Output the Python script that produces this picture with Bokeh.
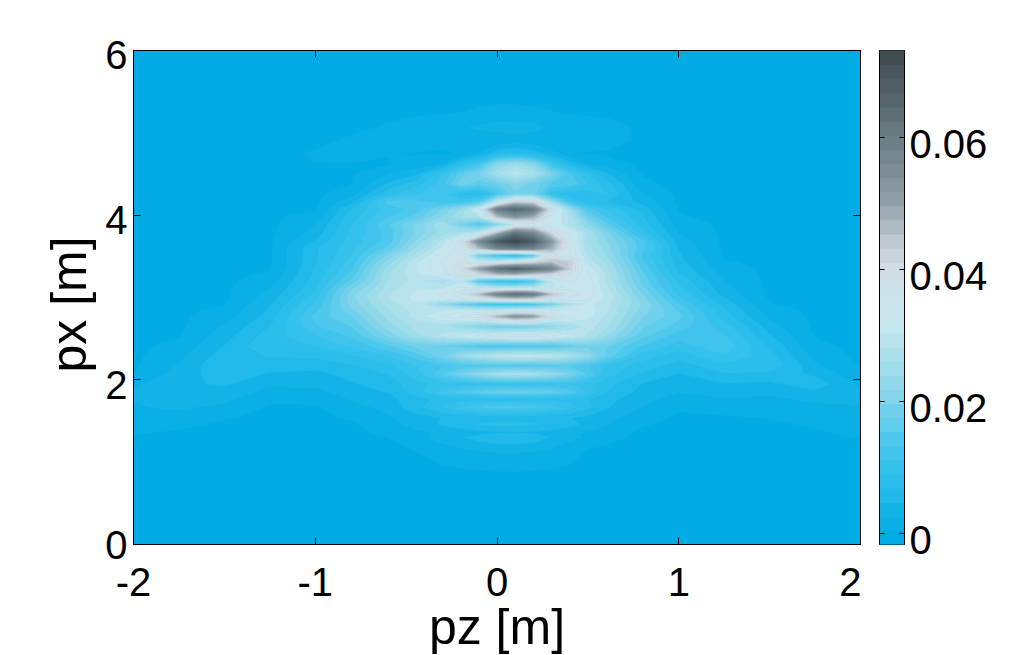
import numpy as np
from bokeh.embed import file_html
from bokeh.resources import INLINE
from bokeh.layouts import row
from bokeh.models import FixedTicker, LinearAxis, Range1d
from bokeh.plotting import figure

# Grid; intensity values in units of 0.001
pz = [-2, -1.75, -1.5, -1.25, -1, -.8, -.6, -.45, -.3, -.2, -.1, 0, .1, .2, .3, .4, .5, .6, .8, 1, 1.25, 1.5, 1.75, 2]
px = [6, 5.5, 5.25, 5.07, 4.9, 4.75, 4.62, 4.5, 4.38, 4.26, 4.16, 4.07, 3.98, 3.89, 3.78, 3.68, 3.6, 3.51, 3.43, 3.35,
      3.28, 3.2, 3.12, 3.04, 2.98, 2.92, 2.85, 2.77, 2.65, 2.53, 2.41, 2.29, 2.17, 2.07, 1.95, 1.85, 1.77, 1.67, 1.54,
      1.46, 1.36, 1.3, 1.15, 1.0, 0.8, 0]
intensity = [
 [0,0,0,0,0, 0,0,0,0,0,0,0,0,0,0,0,0,0,0, 0,0,0,0,0],
 [0,0,0,0,0, 0,0,0,0,0,0,0,0,0,0,0,0,0,0, 0,0,0,0,0],
 [0,0,0,0,0, 0,0,0,.2,.4,.6,.7,.7,.6,.5,.2,0,0,0, 0,0,0,0,0],
 [0,0,0,0,0, .1,.6,1.5,1.8,2.2,3,3.4,3.5,3.2,2.2,1.8,1.5,1.2,.1, 0,0,0,0,0],
 [0,0,0,0,.1, .7,1.2,1.4,.8,.5,.45,1,1.5,1,.45,.8,1.2,1.2,.1, 0,0,0,0,0],
 [0,0,0,0,.6, .8,.5,.3,.3,.5,2.5,6,7,6,3.5,.5,.3,.2,0, 0,0,0,0,0],
 [0,0,0,0,.4, .4,.3,1,2.6,8,12,22,25,22,12,6,2.6,1,.2, 0,0,0,0,0],
 [0,0,0,0,0, .3,2.5,4,11,16,20,26,30,27,20,14,9,5,.3, 0,0,0,0,0],
 [0,0,0,0,0, .3,5,8,12,19,16,18,21,19,15,15,11,8,.8, 0,0,0,0,0],
 [0,0,0,0,0, 1.5,8,11,12,8,7,13,19,19,10,7,8,9,2.5, 0,0,0,0,0],
 [0,0,0,0,0, 4,14,14,12,12,15,30,42,40,25,12,8,7,4, 0,0,0,0,0],
 [0,0,0,0,.3, 7,12,14,20,24,33,58,65,60,38,25,14,11,6, .3,0,0,0,0],
 [0,0,0,0,1.2, 8,13,16,22,26,28,45,52,48,34,28,18,13,7, .6,0,0,0,0],
 [0,0,0,0,2.5, 9,15,20,26,19,14,20,30,34,33,28,22,16,8, 1.5,0,0,0,0],
 [0,0,0,0,3.5, 9.5,14,20,25,28,30,46,62,56,41,34,26,21,10, 2.5,0,0,0,0],
 [0,0,0,.1,5, 10,14,22,29,36,55,68,73,68,52,34,26,22,14, 3.5,0,0,0,0],
 [0,0,0,.1,6.5, 10.5,16,24,31,37,46,57,60,58,48,35,27,23,14, 4.5,0,0,0,0],
 [0,0,0,.1,6.5, 11,20,27,34,36,18,10,7,14,37,35,28,24,13, 5,.1,0,0,0],
 [0,0,0,.1,6.5, 12,23,30,35,37,32,32,35,40,45,43,30,26,13.5, 5.5,.6,0,0,0],
 [0,0,0,.3,7, 13,25,30,34,39,50,62,66,62,57,42,32,27,15, 6.3,1.2,0,0,0],
 [0,0,0,.7,7.2, 14,26,30,33,38,40,45,46,42,40,37,33,28,16, 7,1.8,0,0,0],
 [0,0,0,1.5,7.8, 16,26,29,27,30,14,9,8,13,30,35,34,28,17, 8.5,2.5,0,0,0],
 [0,0,0,2.4,8.5, 19,27,30,30,33,30,27,26,28,30,34,34,29,18, 9.5,3.2,0,0,0],
 [0,0,0,3.2,9.5, 21,28,31,33,37,45,57,62,59,44,36,34,30,20, 10.5,4,0,0,0],
 [0,0,0,3.8,10.5, 21,28,31,32,34,35,39,41,40,36,34,33,30,21, 12,5,.2,0,0],
 [0,0,.3,4.4,11.5, 20.5,27,30,23,17,12,10,10,12,18,27,31,29,21.5, 13.5,6,.5,0,0],
 [0,0,.9,5,12.5, 19.5,26,29,30,31,29,28,29,30,32,33,32,29,21, 15,7,1.2,0,0],
 [0,0,1.6,5.6,14, 17.5,25,29,33,35,37,46,53,50,38,34,31,28,20, 16,8,2,0,0],
 [0,0,2.8,6.8,13, 15.5,23,27,27,24,21,18,18,19,22,26,29,27,18, 14.5,10,3.5,0,0],
 [0,.3,3.8,8,11, 13.5,20,25,29,31,33,35,36,36,34,31,28,24,16, 12,11.5,5,.35,0],
 [0,1,4.8,8.8,9, 11.5,15,18,18,16,14,13,13,13,14,17,19,18,13, 10,12.9,6.5,.8,0],
 [0,2,5.8,7,7.2, 8.7,11,14,19,24,27,30,31,31,30,27,23,17,10, 7.8,10.8,7.8,1.8,0],
 [0,2.8,6.8,5.5,5.5, 6.5,8.5,11,13,13.5,14,14,14,14,14.5,15,13.5,10.5,8, 5.8,8.2,8.5,3,.3],
 [.5,3.5,6,4.5,4, 5.5,7,10,15,19,23,26,27,26,24,20,15,10,6.6, 4.5,6.6,6.2,4.2,1],
 [2,4.3,5,3,3, 4.5,5.8,8,10,10,10,10,10,10,10.5,11,10,7.5,4.6, 3.5,4.5,4.2,6,2],
 [2.7,4,4,1.8,2, 3.6,4.8,8,12,14,16,17.5,18,17.5,16.5,14.5,11,7,3.9, 2.6,3.3,2.9,4.2,2.8],
 [2.7,3.5,3.2,.8,1, 2.8,4,6,7.5,8,8,8,8,8,8,8,7,5.5,3.3, 1.7,2.5,2.2,3,2.8],
 [2.4,2.9,2.1,.2,.2, 1.8,3.2,6,9,11,13,14,14,13.5,12,10,7.5,5,2.6, .7,1.2,1.5,2.1,2.5],
 [1.8,1.6,.6,0,0, .7,2.3,3.8,4.8,5,5.2,5.5,5.5,5.3,5,4.8,4.2,3.2,1.3, .1,.2,.5,1.2,2],
 [1.2,.9,.1,0,0, .1,1.7,3.5,5,6,7,7.5,7.5,7,6.5,5.5,4,2.8,.6, 0,0,.1,.7,1.6],
 [.6,.2,0,0,0, 0,.9,2,3,3.5,4,4.3,4.5,4.3,3.8,3,2.3,1.5,.1, 0,0,0,.2,.9],
 [.3,0,0,0,0, 0,.4,1.8,3.5,4.5,5.5,6.5,6.5,6,4.5,3.2,2.2,1,0, 0,0,0,0,.5],
 [0,0,0,0,0, 0,0,.5,1.5,2.2,2.7,3,3,2.8,2.2,1.2,.4,0,0, 0,0,0,0,0],
 [0,0,0,0,0, 0,0,.1,.5,.7,.8,1,1,.9,.7,.5,.2,0,0, 0,0,0,0,0],
 [0,0,0,0,0, 0,0,0,0,0,0,0,0,0,0,0,0,0,0, 0,0,0,0,0],
 [0,0,0,0,0, 0,0,0,0,0,0,0,0,0,0,0,0,0,0, 0,0,0,0,0],
]
x_ticks = [-2, -1, 0, 1, 2]
x_tick_labels = ["-2", "-1", "0", "1", "2"]
y_ticks = [0, 2, 4, 6]
bar_ticks = [0, 0.02, 0.04, 0.06]
band_floor = -0.0017
band_step = 0.00214
band_count = 35

# colour scale anchors (value, r, g, b)
cmap_v = [-.0017, .0005, .0033, .0073, .0113, .0153, .02, .026, .032, .036, .04, .0441, .0466, .0506, .0547, .0592, .0638, .0683, .0733]
cmap_r = [0, 4, 19, 41, 58, 85, 125, 165, 200, 203, 211, 194, 174, 143, 126, 110, 94, 79, 62]
cmap_g = [172, 173, 179, 190, 195, 203, 211, 223, 231, 226, 222, 203, 186, 160, 143, 128, 110, 93, 74]
cmap_b = [228, 229, 231, 235, 237, 238, 234, 235, 240, 235, 228, 210, 194, 168, 151, 136, 117, 99, 76]

levels = [band_floor + k * band_step for k in range(band_count + 1)]
mids = [0.5 * (levels[k] + levels[k + 1]) for k in range(band_count)]
palette = ["#%02x%02x%02x" % (int(np.interp(m, cmap_v, cmap_r)), int(np.interp(m, cmap_v, cmap_g)), int(np.interp(m, cmap_v, cmap_b))) for m in mids]

FONT = "Liberation Sans"
TICK_SIZE = "40px"
LABEL_SIZE = "50px"
Y_LABEL_DROP = 0.0605      # tick labels sit about 5px under their ticks, as in the reference
BAR_LABEL_DROP = 0.001

z = np.array(intensity, dtype=float)[::-1] * 1e-3
y_grid = np.array(px, dtype=float)[::-1]
x_grid = np.array(pz, dtype=float)

p = figure(width=861, height=657, output_backend="svg", toolbar_location=None,
           x_range=Range1d(-2, 2), y_range=Range1d(0, 6),
           min_border_left=133, min_border_right=1, min_border_top=46, min_border_bottom=113,
           x_axis_label="pz [m]")
p.grid.visible = False
p.background_fill_color = palette[0]
p.border_fill_color = "white"
p.outline_line_color = "black"
p.contour(x_grid, y_grid, z, levels, fill_color=palette, line_color=palette + [palette[-1]], line_width=1)


def style(ax, ticks):
    ax.ticker = FixedTicker(ticks=ticks)
    ax.major_tick_in = 7
    ax.major_tick_out = 0
    ax.minor_tick_line_color = None
    ax.axis_line_color = "black"
    ax.major_tick_line_color = "black"
    ax.major_label_text_font = FONT
    ax.major_label_text_font_size = TICK_SIZE
    ax.major_label_text_color = "black"
    ax.axis_label_text_font = FONT
    ax.axis_label_text_font_size = LABEL_SIZE
    ax.axis_label_text_font_style = "normal"
    ax.axis_label_text_color = "black"


def blank_labels(ax, ticks):
    ax.major_label_overrides = {t: "" for t in ticks}
    ax.major_label_text_font_size = "1px"
    ax.major_label_standoff = 0


style(p.xaxis[0], x_ticks)
style(p.yaxis[0], y_ticks)
p.xaxis[0].major_label_overrides = dict(zip(x_ticks, x_tick_labels))
p.xaxis[0].major_label_standoff = 23
p.xaxis[0].axis_label_standoff = 0
blank_labels(p.yaxis[0], y_ticks)
for side, ticks in (("above", x_ticks), ("right", y_ticks)):
    ax = LinearAxis()
    style(ax, ticks)
    blank_labels(ax, ticks)
    p.add_layout(ax, side)

# tick labels of the y axis, on a slightly shifted range so that they hang under the ticks
p.extra_y_ranges = {"labels": Range1d(Y_LABEL_DROP, 6 + Y_LABEL_DROP)}
label_ticks = [Y_LABEL_DROP if t == 0 else t for t in y_ticks]   # 0 itself would fall outside the shifted range
y_lab = LinearAxis(y_range_name="labels", axis_label="px [m]\u00a0")
style(y_lab, label_ticks)
y_lab.major_label_overrides = dict(zip(label_ticks, [str(t) for t in y_ticks]))
y_lab.axis_line_color = None
y_lab.major_tick_line_color = None
y_lab.major_tick_in = 0
y_lab.major_label_standoff = 6
y_lab.axis_label_standoff = 5
p.add_layout(y_lab, "left")

bar = figure(width=160, height=657, output_backend="svg", toolbar_location=None,
             x_range=Range1d(0, 1), y_range=Range1d(band_floor, levels[-1]),
             min_border_left=18, min_border_right=117, min_border_top=50, min_border_bottom=111,
             x_axis_location=None, y_axis_location="right")
bar.grid.visible = False
bar.outline_line_color = "black"
bar.quad(left=0, right=1, bottom=levels[:-1], top=levels[1:], fill_color=palette, line_color=palette)
style(bar.yaxis[0], bar_ticks)
bar.yaxis[0].major_tick_in = 5
blank_labels(bar.yaxis[0], bar_ticks)
left_ax = LinearAxis()
style(left_ax, bar_ticks)
left_ax.major_tick_in = 5
blank_labels(left_ax, bar_ticks)
bar.add_layout(left_ax, "left")
bar.extra_y_ranges = {"labels": Range1d(band_floor + BAR_LABEL_DROP, levels[-1] + BAR_LABEL_DROP)}
bar_lab = LinearAxis(y_range_name="labels")
style(bar_lab, bar_ticks)
bar_lab.axis_line_color = None
bar_lab.major_tick_line_color = None
bar_lab.major_tick_in = 0
bar_lab.major_label_standoff = 5
bar.add_layout(bar_lab, "right")

layout = row(p, bar, spacing=0)
html = file_html(layout, INLINE)
html = html.replace("</head>", "<style>html,body{overflow:hidden}</style></head>", 1)
open("out.html", "w").write(html)
